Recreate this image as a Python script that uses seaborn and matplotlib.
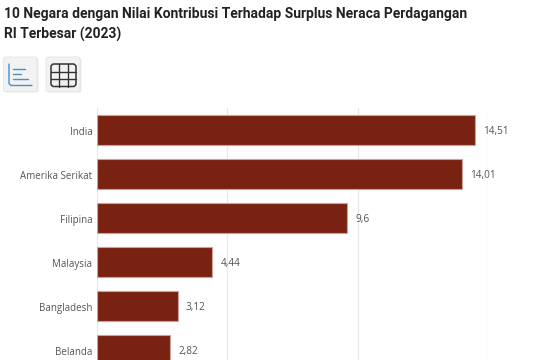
import matplotlib
matplotlib.use("Agg")
import matplotlib.pyplot as plt
from matplotlib.patches import FancyBboxPatch
from matplotlib.transforms import ScaledTranslation
import pandas as pd
import seaborn as sns

title_lines = ["10 Negara dengan Nilai Kontribusi Terhadap Surplus Neraca Perdagangan",
               "RI Terbesar (2023)"]
countries = ["India", "Amerika Serikat", "Filipina", "Malaysia", "Bangladesh", "Belanda"]
values = [14.51, 14.01, 9.6, 4.44, 3.12, 2.82]
value_labels = ["14,51", "14,01", "9,6", "4,44", "3,12", "2,82"]
grid_ticks = [0, 5, 10, 15]

W, H = 537, 360

sns.set_theme(style="white")
plt.rcParams["font.family"] = ["Open Sans", "DejaVu Sans"]

fig = plt.figure(figsize=(W / 100, H / 100), dpi=100, facecolor="white")

# plot area, the lower bars run off the bottom of the picture
ax = fig.add_axes([96.5 / W, 0, (488 - 96.5) / W, (H - 108) / H])
df = pd.DataFrame({"negara": countries, "nilai": values})
sns.barplot(data=df, x="nilai", y="negara", color="#7a2212", saturation=1, width=0.7,
            edgecolor="#c8a29b", linewidth=0.8, ax=ax)
ax.set_xlim(0, 15)
ax.set_ylim(5.227, -0.5)
ax.set_xticks(grid_ticks)
ax.set_xticklabels([])
ax.set_xlabel("")
ax.set_ylabel("")
ax.grid(axis="x", color="#e8e8e8", linewidth=0.9)
ax.set_axisbelow(True)
ax.tick_params(axis="both", length=0)
ax.tick_params(axis="y", pad=3, labelsize=7.0, labelcolor="#555555")
sns.despine(ax=ax, left=True, bottom=True, top=True, right=True)

# labels sit one pixel lower than the bar centre
shift = ScaledTranslation(0, -1 / 100, fig.dpi_scale_trans)
for tick_label in ax.get_yticklabels():
    tick_label.set_transform(tick_label.get_transform() + shift)

for bar, label in zip(ax.containers[0], value_labels):
    ax.annotate(label, (bar.get_width(), bar.get_y() + bar.get_height() / 2),
                xytext=(8, -1), textcoords="offset pixels", va="center", ha="left",
                fontsize=7.2, color="#555555")

# overlay in pixel coordinates for title and buttons
top = fig.add_axes([0, 0, 1, 1], facecolor="none")
top.set_xlim(0, W)
top.set_ylim(H, 0)
top.axis("off")

for line, y in zip(title_lines, [14, 34]):
    top.text(4, y, line, fontsize=9.98, fontweight="bold", family="Roboto",
             color="#222222", va="center", ha="left")

for x0, w in [(3.5, 33.5), (46, 34)]:
    top.add_patch(FancyBboxPatch((x0 + 1.5, 58.5), w, 34, boxstyle="round,pad=0,rounding_size=2",
                                 fc="#dddddd", ec="none", alpha=0.6))
    top.add_patch(FancyBboxPatch((x0, 57), w, 34.5, boxstyle="round,pad=0,rounding_size=2",
                                 fc="#f2f2f2", ec="#e4e4e4", lw=0.6))

# bar chart button
blue = "#4a90c8"
top.plot([9, 9, 11, 32], [64, 83.5, 85.5, 85.5], color=blue, lw=1)
for y, x1 in [(69, 25), (74, 21), (79, 28)]:
    top.plot([12.5, x1], [y, y], color=blue, lw=1)

# table button
top.add_patch(FancyBboxPatch((51, 64), 25, 22.5, boxstyle="round,pad=0,rounding_size=3",
                             fc="none", ec="#333333", lw=1.1))
for x in [59.3, 67.6]:
    top.plot([x, x], [64, 86.5], color="#333333", lw=1)
for y in [71.5, 79]:
    top.plot([51, 76], [y, y], color="#333333", lw=1)

fig.savefig("out.png", dpi=100)
plt.close("all")
